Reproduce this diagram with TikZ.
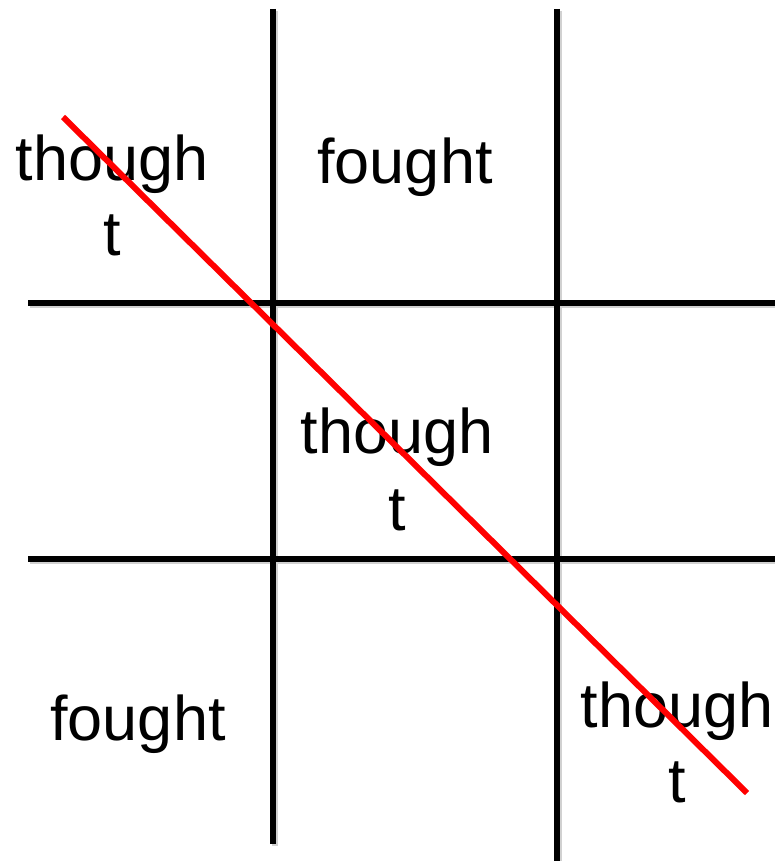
\documentclass[tikz,border=0pt]{standalone}
\usepackage{fontspec}
\setmainfont{Liberation Sans}
\begin{document}
\begin{tikzpicture}[x=1pt,y=-1pt,
  gridline/.style={line width=6pt,black},
  shadowline/.style={line width=6pt,black!18},
  strike/.style={line width=6pt,color={rgb,255:red,255;green,0;blue,0}},
  word/.style={anchor=base,inner sep=0pt,font=\fontsize{63}{75}\selectfont}]
\useasboundingbox[fill=white] (0,0) rectangle (775,861);
% grid end points
\coordinate (v1t) at (273,9);
\coordinate (v1b) at (273,844);
\coordinate (v2t) at (557,9);
\coordinate (v2b) at (557,861);
\coordinate (h1l) at (28,303);
\coordinate (h1r) at (775,303);
\coordinate (h2l) at (28,559);
\coordinate (h2r) at (775,559);
% soft shadows
\draw[shadowline] ([shift={(2,2)}]v1t) -- ([shift={(2,2)}]v1b);
\draw[shadowline] ([shift={(2,2)}]v2t) -- ([shift={(2,2)}]v2b);
\draw[shadowline] ([shift={(2,2)}]h1l) -- ([shift={(2,2)}]h1r);
\draw[shadowline] ([shift={(2,2)}]h2l) -- ([shift={(2,2)}]h2r);
% grid
\draw[gridline] (v1t) -- (v1b);
\draw[gridline] (v2t) -- (v2b);
\draw[gridline] (h1l) -- (h1r);
\draw[gridline] (h2l) -- (h2r);
% words
\node[word] (a1) at (112,180) {though};
\node[word] (a2) at (112,255) {t};
\node[word] (b1) at (405,183) {fought};
\node[word] (c1) at (397,453) {though};
\node[word] (c2) at (397,530) {t};
\node[word] (d1) at (138,740) {fought};
\node[word] (e1) at (677,727) {though};
\node[word] (e2) at (677,802) {t};
% winning line
\coordinate (rs) at (63,117);
\coordinate (re) at (747,793);
\draw[strike] (rs) -- (re);
\end{tikzpicture}
\end{document}
